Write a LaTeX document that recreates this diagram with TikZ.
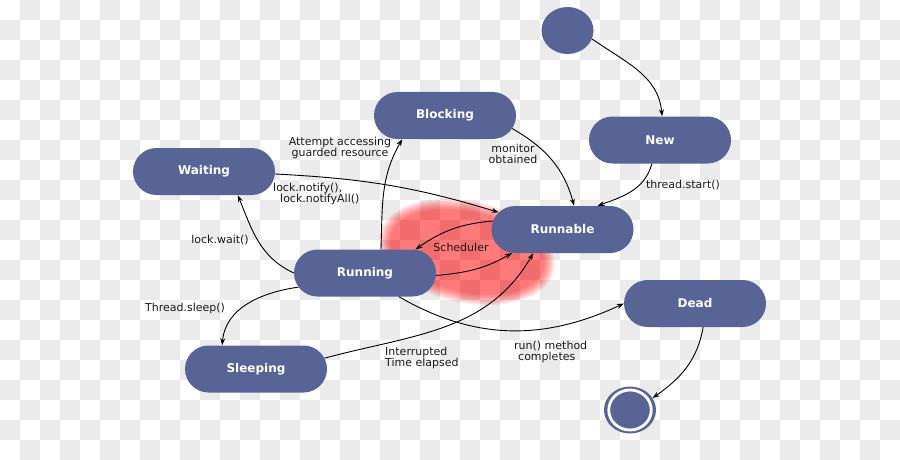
\documentclass[tikz,border=0pt]{standalone}
\usepackage{fontspec}
\setmainfont{DejaVu Sans}
\usepackage{xcolor}
\usepackage{tikz}
\usetikzlibrary{arrows.meta,shapes.geometric,shapes.misc}
\definecolor{stateblue}{HTML}{586496}
\definecolor{chk}{HTML}{EBEBEB}
\definecolor{ink}{HTML}{1A1A1A}
\tikzset{
  box/.style={rounded rectangle, fill=stateblue, minimum width=142pt, minimum height=47pt,
    inner sep=0pt, text=white, font=\bfseries\fontsize{12}{12}\selectfont},
  dot/.style={ellipse, fill=stateblue, minimum width=52pt, minimum height=47pt, inner sep=0pt},
  tr/.style={draw=black, line width=0.9pt, -{Stealth[length=7pt,width=5pt]}},
  lab/.style={text=ink, font=\fontsize{11}{11}\selectfont, inner sep=0pt},
}

\begin{document}
\begin{tikzpicture}[x=1pt,y=1pt]
  \useasboundingbox (0,0) rectangle (900,-460);
  % checkered background
  \foreach \i in {0,...,44}
    \foreach \j in {0,...,22} {
      \pgfmathtruncatemacro{\isgrey}{mod(\i+\j,2)}
      \ifnum\isgrey=1 \fill[chk] (20*\i,-20*\j) rectangle ++(20,-20); \fi
    }
  % red glow behind the scheduler
  \foreach \k in {0,...,9}
    \fill[red, opacity=0.07, rotate around={-12:(467,-252)}]
      (467,-252) ellipse [x radius=89-1.2*\k, y radius=51-1.2*\k];

  % states
  \node[dot] (start) at (567.5,-30.5) {};
  \node[box] (New) at (660,-140) {New};
  \node[box] (Blocking) at (445,-115.5) {Blocking};
  \node[box] (Waiting) at (204,-171.5) {Waiting};
  \node[box] (Runnable) at (562.5,-229.5) {Runnable};
  \node[box] (Running) at (365,-273) {Running};
  \node[box] (Dead) at (695,-303.5) {Dead};
  \node[box] (Sleeping) at (256,-369) {Sleeping};
  \node[dot] (end) at (630,-410) {};
  \node[ellipse, fill=stateblue, draw=white, line width=2.8pt, minimum width=42.5pt,
    minimum height=40pt, inner sep=0pt] (endin) at (end) {};

  % transitions
  \draw[tr] (start.-19) to[out=-35,in=95] (New.85);
  \draw[tr] (New.-109) to[out=-105,in=20] (Runnable.34);
  \draw[tr] (Blocking.-11) to[out=-30,in=105] (Runnable.64);
  \draw[tr] (Waiting.-2) to[out=-3,in=163] (Runnable.165);
  \draw[tr] (Running.180) to[out=155,in=-68] (Waiting.-35);
  \draw[tr] (Running.56) to[out=88,in=-120] (Blocking.-151);
  \draw[tr] (Runnable.173) to[out=185,in=35] (Running.25);
  \draw[tr] (Running.-2) to[out=5,in=-150] (Runnable.-155);
  \draw[tr] (Running.-168.5) to[out=188,in=85] (Sleeping.145);
  \draw[tr] (Sleeping.9) to[out=15,in=-120] (Runnable.-141);
  \draw[tr] (Running.-35) to[out=-30,in=-155] (Dead.west);
  \draw[tr] (Dead.-71) to[out=-100,in=35] (end.28);

  % labels
  \node[lab, align=center] (lblAttempt) at (340,-148) {Attempt accessing\\guarded resource};
  \node[lab, align=center] (lblMonitor) at (513,-154) {monitor\\obtained};
  \node[lab, align=left, anchor=west] (lblNotify) at (273,-194) {lock.notify(),\\\hspace*{7pt}lock.notifyAll()};
  \node[lab] (lblWait) at (220,-240) {lock.wait()};
  \node[lab] (lblStart) at (683,-185) {thread.start()};
  \node[lab] (lblSched) at (461,-247) {Scheduler};
  \node[lab] (lblSleep) at (185,-308) {Thread.sleep()};
  \node[lab, align=left, anchor=west] (lblWake) at (385,-358) {Interrupted\\Time elapsed};
  \node[lab, align=left, anchor=west] (lblRun) at (514,-352) {run() method\\\hspace*{4pt}completes};
\end{tikzpicture}
\end{document}
